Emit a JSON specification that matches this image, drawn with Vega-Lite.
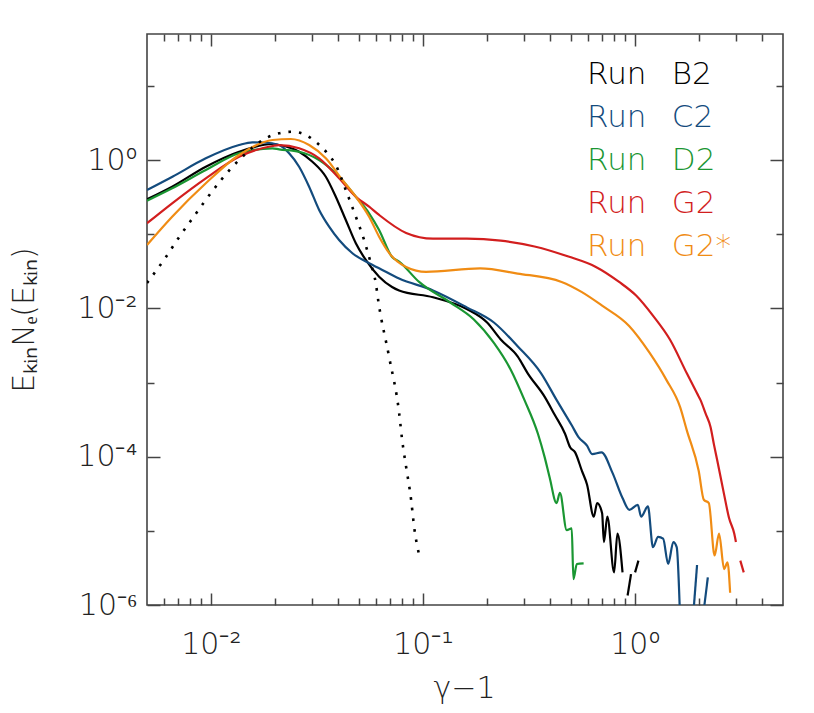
{
  "$schema": "https://vega.github.io/schema/vega-lite/v6.json",
  "width": 636,
  "height": 571,
  "autosize": {"type": "none"},
  "padding": {"left": 147, "top": 34, "right": 31, "bottom": 108},
  "background": "white",
  "config": {"view": {"stroke": "#444444", "strokeWidth": 1.6}, "font": "DejaVu Sans"},
  "datasets": {
    "runs": [
      {"s":"Run B2","g":1,"x":0.005,"y":0.2954},{"s":"Run B2","g":1,"x":0.00657,"y":0.437},{"s":"Run B2","g":1,"x":0.00947,"y":0.812},{"s":"Run B2","g":1,"x":0.01359,"y":1.294},{"s":"Run B2","g":1,"x":0.01953,"y":1.643},{"s":"Run B2","g":1,"x":0.02099,"y":1.592},{"s":"Run B2","g":1,"x":0.02609,"y":1.294},{"s":"Run B2","g":1,"x":0.03014,"y":0.9486},{"s":"Run B2","g":1,"x":0.03487,"y":0.595},{"s":"Run B2","g":1,"x":0.03886,"y":0.3201},{"s":"Run B2","g":1,"x":0.04332,"y":0.1554},{"s":"Run B2","g":1,"x":0.04831,"y":0.0754},{"s":"Run B2","g":1,"x":0.05383,"y":0.0449},{"s":"Run B2","g":1,"x":0.0622,"y":0.02674},{"s":"Run B2","g":1,"x":0.0716,"y":0.01943},{"s":"Run B2","g":1,"x":0.07731,"y":0.01743},{"s":"Run B2","g":1,"x":0.1117,"y":0.01411},{"s":"Run B2","g":1,"x":0.1612,"y":0.00979},{"s":"Run B2","g":1,"x":0.201,"y":0.00644},{"s":"Run B2","g":1,"x":0.2331,"y":0.003797},{"s":"Run B2","g":1,"x":0.28,"y":0.002248},{"s":"Run B2","g":1,"x":0.3125,"y":0.00133},{"s":"Run B2","g":1,"x":0.3758,"y":0.00064},{"s":"Run B2","g":1,"x":0.4195,"y":0.0003636},{"s":"Run B2","g":1,"x":0.4686,"y":0.0002035},{"s":"Run B2","g":1,"x":0.4952,"y":0.0001338},{"s":"Run B2","g":1,"x":0.5229,"y":0.0001143},{"s":"Run B2","g":1,"x":0.563,"y":0.0000642},{"s":"Run B2","g":1,"x":0.595,"y":0.0000422},{"s":"Run B2","g":1,"x":0.6406,"y":0.00001554},{"s":"Run B2","g":1,"x":0.6641,"y":0.0000237},{"s":"Run B2","g":1,"x":0.7011,"y":0.00001727},{"s":"Run B2","g":1,"x":0.7148,"y":0.00000706},{"s":"Run B2","g":1,"x":0.7418,"y":0.00001554},{"s":"Run B2","g":1,"x":0.7986,"y":0.00000275},{"s":"Run B2","g":1,"x":0.8278,"y":0.00000919},{"s":"Run B2","g":1,"x":0.875,"y":0.00000275},
      {"s":"Run B2","g":2,"x":0.9247,"y":0.000001343},{"s":"Run B2","g":2,"x":0.9596,"y":0.00000261},
      {"s":"Run B2","g":3,"x":1.003,"y":0.00000275},{"s":"Run B2","g":3,"x":1.04,"y":0.00000397},
      {"s":"Run C2","g":1,"x":0.005,"y":0.394},{"s":"Run C2","g":1,"x":0.00659,"y":0.595},{"s":"Run C2","g":1,"x":0.00947,"y":1.054},{"s":"Run C2","g":1,"x":0.01359,"y":1.592},{"s":"Run C2","g":1,"x":0.0157,"y":1.732},{"s":"Run C2","g":1,"x":0.01784,"y":1.721},{"s":"Run C2","g":1,"x":0.02099,"y":1.592},{"s":"Run C2","g":1,"x":0.0234,"y":1.231},{"s":"Run C2","g":1,"x":0.02609,"y":0.812},{"s":"Run C2","g":1,"x":0.02909,"y":0.437},{"s":"Run C2","g":1,"x":0.03243,"y":0.212},{"s":"Run C2","g":1,"x":0.03614,"y":0.1262},{"s":"Run C2","g":1,"x":0.04028,"y":0.0835},{"s":"Run C2","g":1,"x":0.04655,"y":0.0553},{"s":"Run C2","g":1,"x":0.0558,"y":0.0405},{"s":"Run C2","g":1,"x":0.0622,"y":0.0347},{"s":"Run C2","g":1,"x":0.07731,"y":0.0252},{"s":"Run C2","g":1,"x":0.1117,"y":0.01743},{"s":"Run C2","g":1,"x":0.1612,"y":0.01031},{"s":"Run C2","g":1,"x":0.2164,"y":0.00644},{"s":"Run C2","g":1,"x":0.28,"y":0.003084},{"s":"Run C2","g":1,"x":0.3614,"y":0.00133},{"s":"Run C2","g":1,"x":0.4273,"y":0.000583},{"s":"Run C2","g":1,"x":0.504,"y":0.0002649},{"s":"Run C2","g":1,"x":0.5425,"y":0.0001837},{"s":"Run C2","g":1,"x":0.595,"y":0.0001411},{"s":"Run C2","g":1,"x":0.6289,"y":0.0001084},{"s":"Run C2","g":1,"x":0.6966,"y":0.0001143},{"s":"Run C2","g":1,"x":0.7839,"y":0.0000609},{"s":"Run C2","g":1,"x":0.875,"y":0.00002767},{"s":"Run C2","g":1,"x":0.9419,"y":0.00001919},{"s":"Run C2","g":1,"x":1.033,"y":0.00002241},{"s":"Run C2","g":1,"x":1.071,"y":0.00001554},{"s":"Run C2","g":1,"x":1.153,"y":0.00002132},{"s":"Run C2","g":1,"x":1.218,"y":0.00000603},{"s":"Run C2","g":1,"x":1.288,"y":0.00000828},{"s":"Run C2","g":1,"x":1.36,"y":0.00000785},{"s":"Run C2","g":1,"x":1.437,"y":0.00000357},{"s":"Run C2","g":1,"x":1.519,"y":0.00000706},{"s":"Run C2","g":1,"x":1.576,"y":0.00000603},{"s":"Run C2","g":1,"x":1.636,"y":0.00000063},
      {"s":"Run C2","g":2,"x":1.894,"y":0.00000086},{"s":"Run C2","g":2,"x":1.966,"y":0.00000346},
      {"s":"Run C2","g":3,"x":2.116,"y":0.00000086},{"s":"Run C2","g":3,"x":2.21,"y":0.00000235},
      {"s":"Run D2","g":1,"x":0.005,"y":0.2828},{"s":"Run D2","g":1,"x":0.00657,"y":0.4156},{"s":"Run D2","g":1,"x":0.00947,"y":0.733},{"s":"Run D2","g":1,"x":0.01359,"y":1.231},{"s":"Run D2","g":1,"x":0.01953,"y":1.438},{"s":"Run D2","g":1,"x":0.02099,"y":1.394},{"s":"Run D2","g":1,"x":0.02609,"y":1.294},{"s":"Run D2","g":1,"x":0.03243,"y":1.0},{"s":"Run D2","g":1,"x":0.04028,"y":0.595},{"s":"Run D2","g":1,"x":0.04831,"y":0.3201},{"s":"Run D2","g":1,"x":0.0558,"y":0.1913},{"s":"Run D2","g":1,"x":0.0622,"y":0.1139},{"s":"Run D2","g":1,"x":0.0716,"y":0.0493},{"s":"Run D2","g":1,"x":0.07731,"y":0.0426},{"s":"Run D2","g":1,"x":0.09605,"y":0.02269},{"s":"Run D2","g":1,"x":0.1342,"y":0.01208},{"s":"Run D2","g":1,"x":0.1736,"y":0.00713},{"s":"Run D2","g":1,"x":0.2164,"y":0.003417},{"s":"Run D2","g":1,"x":0.2602,"y":0.001478},{"s":"Run D2","g":1,"x":0.3014,"y":0.000583},{"s":"Run D2","g":1,"x":0.3491,"y":0.0002035},{"s":"Run D2","g":1,"x":0.3758,"y":0.0000978},{"s":"Run D2","g":1,"x":0.3968,"y":0.0000519},{"s":"Run D2","g":1,"x":0.4273,"y":0.0000237},{"s":"Run D2","g":1,"x":0.4433,"y":0.0000324},{"s":"Run D2","g":1,"x":0.4773,"y":0.00001022},{"s":"Run D2","g":1,"x":0.504,"y":0.00001077},{"s":"Run D2","g":1,"x":0.5133,"y":0.00000223},{"s":"Run D2","g":1,"x":0.5326,"y":0.00000357},{"s":"Run D2","g":1,"x":0.5735,"y":0.00000365},
      {"s":"Run G2","g":1,"x":0.005,"y":0.1402},{"s":"Run G2","g":1,"x":0.00657,"y":0.2609},{"s":"Run G2","g":1,"x":0.00947,"y":0.5668},{"s":"Run G2","g":1,"x":0.01359,"y":1.108},{"s":"Run G2","g":1,"x":0.01953,"y":1.544},{"s":"Run G2","g":1,"x":0.02099,"y":1.592},{"s":"Run G2","g":1,"x":0.02609,"y":1.438},{"s":"Run G2","g":1,"x":0.03243,"y":1.054},{"s":"Run G2","g":1,"x":0.04028,"y":0.5668},{"s":"Run G2","g":1,"x":0.04831,"y":0.3201},{"s":"Run G2","g":1,"x":0.0558,"y":0.2348},{"s":"Run G2","g":1,"x":0.0622,"y":0.1815},{"s":"Run G2","g":1,"x":0.08341,"y":0.1038},{"s":"Run G2","g":1,"x":0.1117,"y":0.087},{"s":"Run G2","g":1,"x":0.1612,"y":0.087},{"s":"Run G2","g":1,"x":0.2331,"y":0.0818},{"s":"Run G2","g":1,"x":0.3364,"y":0.0683},{"s":"Run G2","g":1,"x":0.4862,"y":0.0499},{"s":"Run G2","g":1,"x":0.6519,"y":0.0364},{"s":"Run G2","g":1,"x":0.8431,"y":0.02269},{"s":"Run G2","g":1,"x":1.014,"y":0.01488},{"s":"Run G2","g":1,"x":1.22,"y":0.00792},{"s":"Run G2","g":1,"x":1.464,"y":0.003797},{"s":"Run G2","g":1,"x":1.759,"y":0.00133},{"s":"Run G2","g":1,"x":1.968,"y":0.000709},{"s":"Run G2","g":1,"x":2.039,"y":0.000583},{"s":"Run G2","g":1,"x":2.156,"y":0.0003834},{"s":"Run G2","g":1,"x":2.276,"y":0.0002513},{"s":"Run G2","g":1,"x":2.361,"y":0.0001465},{"s":"Run G2","g":1,"x":2.45,"y":0.000088},{"s":"Run G2","g":1,"x":2.638,"y":0.00003075},{"s":"Run G2","g":1,"x":2.785,"y":0.00001474},{"s":"Run G2","g":1,"x":2.944,"y":0.00000919},{"s":"Run G2","g":1,"x":2.999,"y":0.00000706},
      {"s":"Run G2","g":2,"x":3.145,"y":0.00000397},{"s":"Run G2","g":2,"x":3.264,"y":0.00000275},
      {"s":"Run G2*","g":1,"x":0.005,"y":0.0715},{"s":"Run G2*","g":1,"x":0.00657,"y":0.1721},{"s":"Run G2*","g":1,"x":0.00947,"y":0.4853},{"s":"Run G2*","g":1,"x":0.01359,"y":1.168},{"s":"Run G2*","g":1,"x":0.01953,"y":1.86},{"s":"Run G2*","g":1,"x":0.02384,"y":1.919},{"s":"Run G2*","g":1,"x":0.02909,"y":1.592},{"s":"Run G2*","g":1,"x":0.03487,"y":1.054},{"s":"Run G2*","g":1,"x":0.04175,"y":0.5376},{"s":"Run G2*","g":1,"x":0.04831,"y":0.3201},{"s":"Run G2*","g":1,"x":0.0558,"y":0.1721},{"s":"Run G2*","g":1,"x":0.0622,"y":0.0925},{"s":"Run G2*","g":1,"x":0.06934,"y":0.0558},{"s":"Run G2*","g":1,"x":0.08341,"y":0.03614},{"s":"Run G2*","g":1,"x":0.1036,"y":0.031},{"s":"Run G2*","g":1,"x":0.1863,"y":0.0345},{"s":"Run G2*","g":1,"x":0.28,"y":0.02944},{"s":"Run G2*","g":1,"x":0.4515,"y":0.02269},{"s":"Run G2*","g":1,"x":0.563,"y":0.01653},{"s":"Run G2*","g":1,"x":0.7011,"y":0.01087},{"s":"Run G2*","g":1,"x":0.94,"y":0.00579},{"s":"Run G2*","g":1,"x":1.175,"y":0.002506},{"s":"Run G2*","g":1,"x":1.411,"y":0.001077},{"s":"Run G2*","g":1,"x":1.636,"y":0.000465},{"s":"Run G2*","g":1,"x":1.759,"y":0.0002262},{"s":"Run G2*","g":1,"x":2.002,"y":0.0000642},{"s":"Run G2*","g":1,"x":2.116,"y":0.00002625},{"s":"Run G2*","g":1,"x":2.234,"y":0.0000237},{"s":"Run G2*","g":1,"x":2.379,"y":0.00000465},{"s":"Run G2*","g":1,"x":2.496,"y":0.00000919},{"s":"Run G2*","g":1,"x":2.638,"y":0.00000305},{"s":"Run G2*","g":1,"x":2.737,"y":0.00000376},{"s":"Run G2*","g":1,"x":2.816,"y":0.00000146}
    ],
    "maxw": [
      {"x":0.005,"y":0.022},{"x":0.00604,"y":0.0459},{"x":0.00711,"y":0.0925},{"x":0.00853,"y":0.1913},{"x":0.00933,"y":0.2742},{"x":0.01359,"y":1.0},{"x":0.01823,"y":1.979},{"x":0.02099,"y":2.29},{"x":0.02426,"y":2.406},{"x":0.02806,"y":2.173},{"x":0.03184,"y":1.68},{"x":0.03548,"y":1.231},{"x":0.03886,"y":0.856},{"x":0.04332,"y":0.394},{"x":0.04831,"y":0.1721},{"x":0.05284,"y":0.0835},{"x":0.05684,"y":0.0405},{"x":0.06001,"y":0.0218},{"x":0.06173,"y":0.01231},{"x":0.06934,"y":0.002213},{"x":0.07731,"y":0.0003894},{"x":0.07988,"y":0.0001684},{"x":0.08341,"y":0.0000729},{"x":0.08807,"y":0.00002617},{"x":0.09099,"y":0.00001132},{"x":0.09605,"y":0.00000475}
    ]
  },
  "encoding": {
    "color": {
      "field": "s", "type": "nominal",
      "scale": {"domain": ["Run B2", "Run C2", "Run D2", "Run G2", "Run G2*"], "range": ["#000000", "#134b7d", "#1a9632", "#d21e1e", "#f08c14"]},
      "legend": {
        "orient": "none", "legendX": 409, "legendY": 25, "title": null, "padding": 0,
        "symbolType": "circle", "symbolSize": 0, "symbolOpacity": 0, "symbolStrokeWidth": 0,
        "labelFont": "DejaVu Sans", "labelFontSize": 31, "labelFontWeight": 200, "labelOffset": 0, "labelLimit": 300,
        "rowPadding": 11,
        "labelExpr": "replace(datum.label, ' ', '\u00a0\u2002')",
        "encode": {"labels": {"update": {"fill": {"scale": "color", "field": "value"}}}}
      }
    },
    "detail": {"field": "g", "type": "nominal"}
  },
  "layer": [
    {
      "data": {"name": "runs"},
      "transform": [{"filter": "datum.s == 'Run B2' || datum.s == 'Run C2'"}],
      "mark": {"type": "line", "strokeWidth": 2.2, "interpolate": "monotone", "clip": true},
      "encoding": {
        "x": {"field": "x", "type": "quantitative", "scale": {"type": "log", "domain": [0.005, 5], "nice": false},
          "axis": {"orient": "bottom", "values": [0.01, 0.1, 1], "domain": false, "grid": false,
            "tickSize": -12, "tickColor": "#444444", "tickWidth": 1.5,
            "labelExpr": "datum.value < 0.05 ? '10⁻²' : datum.value < 0.5 ? '10⁻¹' : '10⁰'",
            "labelFont": "DejaVu Sans", "labelFontSize": 30, "labelFontWeight": 200, "labelColor": "#222222",
            "labelBaseline": "alphabetic", "labelPadding": 60, "labelFlush": false, "labelOverlap": false,
            "title": "γ−1", "titleFont": "DejaVu Sans", "titleFontSize": 30, "titleFontWeight": 200, "titleColor": "#222222",
            "titleX": 317, "titleY": 92, "titleBaseline": "alphabetic", "titleAlign": "center"}},
        "y": {"field": "y", "type": "quantitative", "scale": {"type": "log", "domain": [0.000001, 50], "nice": false},
          "axis": {"orient": "left", "values": [1, 0.01, 0.0001, 0.000001], "domain": false, "grid": false,
            "tickSize": -13, "tickColor": "#444444", "tickWidth": 1.5,
            "labelExpr": "datum.value > 0.5 ? '10⁰' : datum.value > 0.005 ? '10⁻²' : datum.value > 0.00005 ? '10⁻⁴' : '10⁻⁶'",
            "labelFont": "DejaVu Sans", "labelFontSize": 30, "labelFontWeight": 200, "labelColor": "#222222",
            "labelPadding": 23, "labelFlush": false, "labelOverlap": false,
            "title": "EₖᵢₙNₑ(Eₖᵢₙ)", "titleFont": "DejaVu Sans", "titleFontSize": 30, "titleFontWeight": 200, "titleColor": "#222222",
            "titleAngle": -90, "titleX": -114, "titleY": 285.5, "titleBaseline": "alphabetic", "titleAlign": "center"}}
      }
    },
    {
      "data": {"name": "runs"},
      "transform": [{"filter": "datum.s == 'Run D2' || datum.s == 'Run G2'"}],
      "mark": {"type": "line", "strokeWidth": 2.2, "interpolate": "monotone", "clip": true},
      "encoding": {
        "x": {"field": "x", "type": "quantitative", "scale": {"type": "log", "domain": [0.005, 5], "nice": false},
          "axis": {"orient": "bottom", "values": [0.006, 0.007, 0.008, 0.009, 0.02, 0.03, 0.04, 0.05, 0.06, 0.07, 0.08, 0.09, 0.2, 0.3, 0.4, 0.5, 0.6, 0.7, 0.8, 0.9, 2, 3, 4],
            "domain": false, "grid": false, "labels": false, "title": null,
            "tickSize": -7, "tickColor": "#444444", "tickWidth": 1.5}},
        "y": {"field": "y", "type": "quantitative", "scale": {"type": "log", "domain": [0.000001, 50], "nice": false},
          "axis": {"orient": "left", "values": [10, 0.1, 0.001, 0.00001], "domain": false, "grid": false, "labels": false, "title": null,
            "tickSize": -7, "tickColor": "#444444", "tickWidth": 1.5}}
      }
    },
    {
      "data": {"name": "runs"},
      "transform": [{"filter": "datum.s == 'Run G2*'"}],
      "mark": {"type": "line", "strokeWidth": 2.2, "interpolate": "monotone", "clip": true},
      "encoding": {
        "x": {"field": "x", "type": "quantitative", "scale": {"type": "log", "domain": [0.005, 5], "nice": false},
          "axis": {"orient": "top", "values": [0.01, 0.1, 1], "domain": false, "grid": false, "labels": false, "title": null,
            "tickSize": -12, "tickColor": "#444444", "tickWidth": 1.5}},
        "y": {"field": "y", "type": "quantitative", "scale": {"type": "log", "domain": [0.000001, 50], "nice": false},
          "axis": {"orient": "right", "values": [1, 0.01, 0.0001, 0.000001], "domain": false, "grid": false, "labels": false, "title": null,
            "tickSize": -13, "tickColor": "#444444", "tickWidth": 1.5}}
      }
    },
    {
      "data": {"name": "maxw"},
      "mark": {"type": "line", "strokeWidth": 2.6, "strokeDash": [2.6, 8], "interpolate": "monotone", "clip": true, "color": "#000000"},
      "encoding": {
        "color": {"value": "#000000"},
        "detail": {"value": 1},
        "x": {"field": "x", "type": "quantitative", "scale": {"type": "log", "domain": [0.005, 5], "nice": false},
          "axis": {"orient": "top", "values": [0.006, 0.007, 0.008, 0.009, 0.02, 0.03, 0.04, 0.05, 0.06, 0.07, 0.08, 0.09, 0.2, 0.3, 0.4, 0.5, 0.6, 0.7, 0.8, 0.9, 2, 3, 4],
            "domain": false, "grid": false, "labels": false, "title": null,
            "tickSize": -7, "tickColor": "#444444", "tickWidth": 1.5}},
        "y": {"field": "y", "type": "quantitative", "scale": {"type": "log", "domain": [0.000001, 50], "nice": false},
          "axis": {"orient": "right", "values": [10, 0.1, 0.001, 0.00001], "domain": false, "grid": false, "labels": false, "title": null,
            "tickSize": -7, "tickColor": "#444444", "tickWidth": 1.5}}
      }
    }
  ],
  "resolve": {"axis": {"x": "independent", "y": "independent"}}
}
